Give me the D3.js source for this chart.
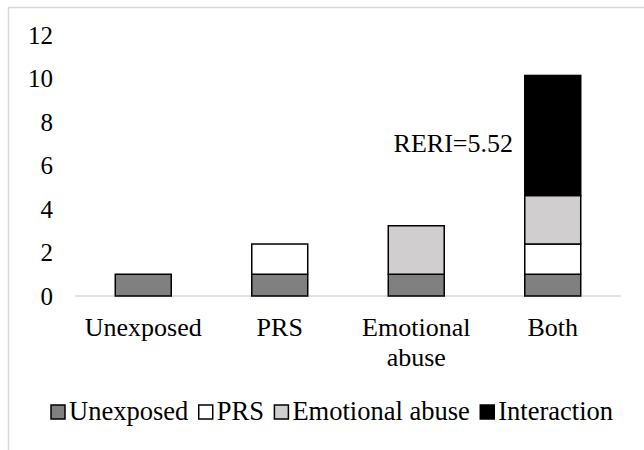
<!DOCTYPE html>
<html>
<head>
<meta charset="utf-8">
<script src="https://cdn.jsdelivr.net/npm/d3@7"></script>
</head>
<body style="margin:0; background:#fff">
<div id="main"></div>
<script>
var categories = ['Unexposed', 'PRS', 'Emotional abuse', 'Both'];
var seriesNames = ['Unexposed', 'PRS', 'Emotional abuse', 'Interaction'];
var unexposed = [1, 1, 1, 1];
var prs = [0, 1.39, 0, 1.39];
var emotional = [0, 0, 2.23, 2.23];
var interaction = [0, 0, 0, 5.52];
var yTicks = [0, 2, 4, 6, 8, 10, 12];
var colors = ['#808080', '#ffffff', '#d0cece', '#000000'];
var annotation = 'RERI=5.52';

var FONT = '"Liberation Serif"';
var W = 644, H = 450;
var svg = d3.select('#main').append('svg').attr('width', W).attr('height', H);

// chart area border (runs off right / bottom edge like the reference)
svg.append('rect').attr('x', 8.5).attr('y', 7.5).attr('width', 700).attr('height', 500)
    .attr('fill', 'none').attr('stroke', '#d9d9d9').attr('stroke-width', 1.5);

var x = d3.scaleBand().domain(categories).range([75, 621]).paddingInner(0.59).paddingOuter(0.295);
var y = d3.scaleLinear().domain([0, 12]).range([296, 35]);

var rows = categories.map(function(c, i) {
    return { cat: c, Unexposed: unexposed[i], PRS: prs[i], 'Emotional abuse': emotional[i], Interaction: interaction[i] };
});
var stack = d3.stack().keys(seriesNames)(rows);

// y axis labels
var yAxis = svg.append('g').attr('transform', 'translate(53,0)')
    .call(d3.axisLeft(y).tickValues(yTicks).tickSize(0).tickPadding(0));
yAxis.attr('font-family', null);
yAxis.select('.domain').remove();
yAxis.selectAll('text').attr('font-size', 25).style('font-family', FONT).attr('fill', '#000');

// baseline
svg.append('line').attr('x1', 75).attr('x2', 621).attr('y1', y(0)).attr('y2', y(0))
    .attr('stroke', '#d9d9d9').attr('stroke-width', 1.5);

// bars
stack.forEach(function(s, k) {
    svg.append('g').selectAll('rect').data(s.filter(function(d) { return d[1] - d[0] > 0; }))
        .enter().append('rect')
        .attr('x', function(d) { return x(d.data.cat); })
        .attr('width', x.bandwidth())
        .attr('y', function(d) { return y(d[1]); })
        .attr('height', function(d) { return y(d[0]) - y(d[1]); })
        .attr('fill', colors[k]).attr('stroke', '#000').attr('stroke-width', 1.5);
});

// category labels
var xl = svg.append('g').selectAll('text').data(categories).enter().append('text')
    .attr('text-anchor', 'middle').attr('font-size', 26).style('font-family', FONT)
    .attr('x', function(d) { return x(d) + x.bandwidth() / 2; })
    .attr('y', 336);
xl.each(function(d) {
    var words = d.split(' ');
    var t = d3.select(this);
    words.forEach(function(w, i) {
        t.append('tspan').attr('x', t.attr('x')).attr('dy', i === 0 ? 0 : 30).text(w);
    });
});

// annotation
svg.append('text').attr('x', 513).attr('y', 152).attr('text-anchor', 'end')
    .attr('font-size', 26).style('font-family', FONT).text(annotation);

// legend
var lg = svg.append('g');
var cx = 0;
seriesNames.forEach(function(n, i) {
    var g = lg.append('g').attr('transform', 'translate(' + cx + ',0)');
    g.append('rect').attr('x', 0).attr('y', 405).attr('width', 14).attr('height', 14)
        .attr('fill', colors[i]).attr('stroke', '#000').attr('stroke-width', 1.5);
    var t = g.append('text').attr('x', 18).attr('y', 420).attr('font-size', 26.5)
        .style('font-family', FONT).text(n);
    cx += 18 + t.node().getComputedTextLength() + 10.5;
});
lg.attr('transform', 'translate(51,0)');
</script>
</body>
</html>
